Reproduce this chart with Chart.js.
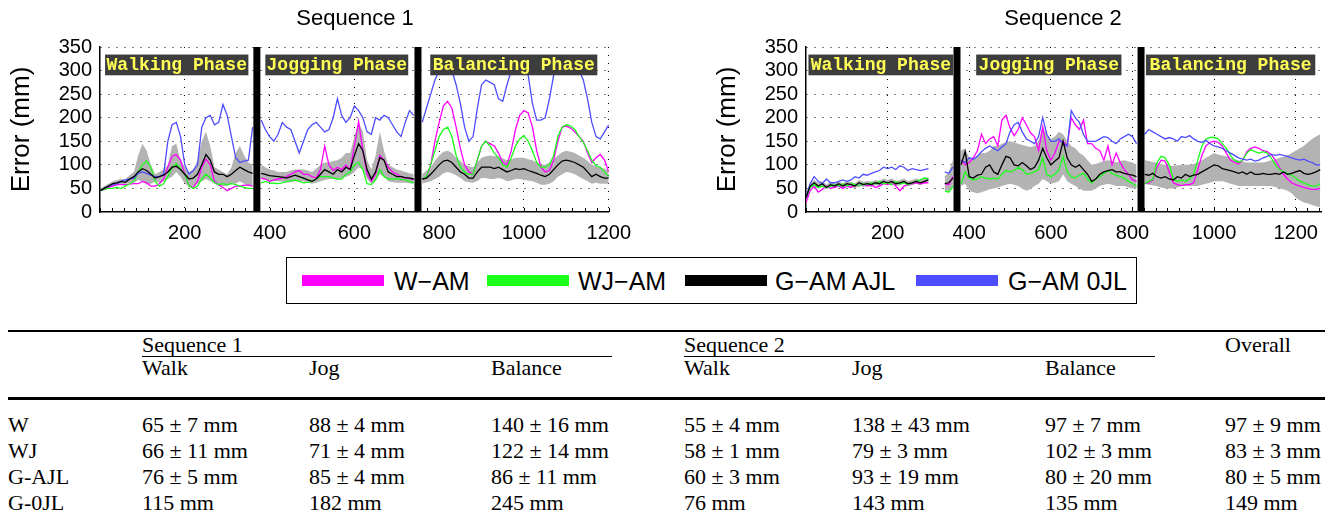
<!DOCTYPE html>
<html><head><meta charset="utf-8">
<script src="https://cdn.jsdelivr.net/npm/chart.js@4.4.1/dist/chart.umd.min.js"></script>
<style>
html,body{margin:0;padding:0;background:#fff;}
body{width:1333px;height:520px;position:relative;overflow:hidden;font-family:'Liberation Sans',Arial,sans-serif;color:#000;}
canvas{position:absolute;top:0;}
.t{position:absolute;transform:translateY(-50%);line-height:1;white-space:nowrap;}
.serif{font-family:'Liberation Serif','Times New Roman',serif;font-size:22px;}
.rule{position:absolute;background:#000;}
</style></head><body>
<canvas id="c1" style="left:0px" width="640" height="250"></canvas>
<canvas id="c2" style="left:706px" width="627" height="250"></canvas>
<script>
// ---------------- DATA ----------------
const seriesNames = ['W\u2212AM', 'WJ\u2212AM', 'G\u2212AM AJL', 'G\u2212AM 0JL'];
const seriesColors = ['#ff00ff', '#1aff1a', '#000000', '#4d4dff'];
const chartTitles = ['Sequence 1', 'Sequence 2'];
const yAxisTitle = 'Error (mm)';
const yTicks = [0, 50, 100, 150, 200, 250, 300, 350];
const xTicks = [200, 400, 600, 800, 1000, 1200];
const phaseNames = ['Walking Phase', 'Jogging Phase', 'Balancing Phase'];

// Sequence 1
const s1X = [0,10,20,30,40,50,60,70,80,90,
 100,110,120,130,140,150,160,170,180,190,
 200,210,220,230,240,250,260,270,280,290,
 300,310,320,330,340,350,360,370,380,390,
 400,410,420,430,440,450,460,470,480,490,
 500,510,520,530,540,550,560,570,580,590,
 600,610,620,630,640,650,660,670,680,690,
 700,710,720,730,740,750,760,770,780,790,
 800,810,820,830,840,850,860,870,880,890,
 900,910,920,930,940,950,960,970,980,990,
 1000,1010,1020,1030,1040,1050,1060,1070,1080,1090,
 1100,1110,1120,1130,1140,1150,1160,1170,1180,1190,
 1200];
const s1W = [45,48,52,55,58,58,58,59,60,60,
 65,62,55,55,60,70,95,118,122,110,
 80,55,52,65,95,112,100,65,58,52,
 45,50,55,55,57,57,55,null,72,70,
 65,68,70,72,75,80,85,88,80,80,
 75,72,90,140,100,88,95,90,100,90,
 140,192,130,80,65,80,120,110,95,85,
 80,75,72,72,68,null,70,72,100,150,
 190,225,235,220,180,135,100,85,80,110,
 140,150,145,140,125,105,100,130,175,205,
 215,210,180,130,95,85,88,110,150,180,
 182,178,170,160,150,125,105,115,122,110,
 85];
const s1WJ = [45,48,50,50,52,50,55,60,65,85,
 100,108,95,65,55,60,75,95,102,92,
 80,55,50,55,70,80,72,62,58,60,
 58,60,58,55,52,50,50,null,62,65,
 62,61,60,62,65,66,68,65,62,63,
 65,70,75,75,75,72,70,70,80,85,
 100,105,90,60,58,68,90,75,70,70,
 70,69,68,65,62,null,70,75,100,130,
 160,175,180,160,120,95,85,80,80,110,
 140,150,140,125,115,100,95,115,140,155,
 162,150,130,105,95,95,100,120,160,180,
 185,182,175,160,148,130,110,98,95,85,
 75];
const s1GAJL = [45,50,55,60,62,65,63,70,75,85,
 92,88,80,72,75,78,85,95,97,90,
 80,70,72,80,100,122,110,85,80,80,
 75,80,88,95,90,85,82,null,82,80,
 77,76,75,74,72,75,78,75,72,68,
 65,70,80,90,85,80,90,85,95,90,
 120,145,130,90,70,85,115,110,85,80,
 75,75,73,72,70,null,70,72,80,90,
 100,108,110,105,95,85,80,72,72,85,
 95,95,95,92,95,90,85,88,92,90,
 92,88,85,82,78,75,80,90,100,108,
 110,108,105,100,95,85,75,80,75,72,
 72];
const s1G0JL = [45,50,55,58,60,65,68,70,72,82,
 85,82,78,75,75,80,150,185,190,160,
 100,80,88,100,180,200,205,185,190,228,
 205,160,115,105,108,110,180,null,195,175,
 160,150,165,190,180,175,150,125,150,175,
 185,190,180,170,175,200,240,205,190,200,
 225,215,200,170,165,200,195,205,200,185,
 170,160,190,215,205,null,190,220,250,280,
 300,315,320,300,270,230,180,150,160,220,
 270,280,275,270,240,235,270,300,318,322,
 315,290,230,195,195,200,240,290,312,322,
 325,322,315,300,280,240,190,160,155,170,
 185];
const s1BandLow = [42,48,52,55,58,58,60,62,62,68,
 65,58,60,65,62,65,70,75,85,75,
 60,55,55,60,65,70,65,60,55,55,
 55,60,60,65,60,55,55,null,70,68,
 65,65,65,64,62,63,65,64,65,62,
 60,62,65,68,70,70,70,72,75,78,
 85,95,90,70,60,65,80,75,65,63,
 62,62,62,61,60,null,60,63,65,70,
 75,82,85,82,78,72,65,63,62,66,
 72,72,70,70,72,70,65,67,70,70,
 68,67,65,62,58,58,60,65,75,80,
 85,83,80,75,70,65,60,62,60,60,
 60];
const s1BandHigh = [48,55,60,65,68,70,70,78,85,120,
 145,130,100,80,85,90,100,140,145,110,
 95,85,90,110,150,170,140,95,90,85,
 80,95,125,140,120,105,100,null,100,95,
 90,88,85,85,85,88,90,90,90,88,
 85,92,100,105,105,108,110,115,125,125,
 160,190,170,110,90,120,170,130,100,95,
 90,88,85,82,80,null,80,88,95,108,
 120,128,130,125,115,108,100,97,95,105,
 115,118,120,118,118,114,110,112,115,115,
 115,112,110,105,100,100,105,112,120,127,
 130,128,125,120,115,108,100,98,95,92,
 88];
const s1XMax = 1200;
const s1Bars = [370, 750];
const s1PhaseFrom = [12, 390, 779];
const s1PhaseTo = [350, 727, 1173];

// Sequence 2
const s2X = [0,10,20,30,40,50,60,70,80,90,
 100,110,120,130,140,150,160,170,180,190,
 200,210,220,230,240,250,260,270,280,290,
 300,310,320,330,340,350,360,370,380,390,
 400,410,420,430,440,450,460,470,480,490,
 500,510,520,530,540,550,560,570,580,590,
 600,610,620,630,640,650,660,670,680,690,
 700,710,720,730,740,750,760,770,780,790,
 800,810,820,830,840,850,860,870,880,890,
 900,910,920,930,940,950,960,970,980,990,
 1000,1010,1020,1030,1040,1050,1060,1070,1080,1090,
 1100,1110,1120,1130,1140,1150,1160,1170,1180,1190,
 1200,1210,1220,1230,1240,1250,1260];
const s2W = [20,45,55,42,48,55,50,52,55,50,
 55,52,58,55,60,55,58,52,55,60,
 58,62,55,45,55,58,60,62,60,62,
 62,null,null,null,60,58,75,null,110,100,
 105,115,130,165,145,155,160,140,195,205,
 178,162,175,200,185,168,160,130,180,130,
 110,125,150,150,140,200,185,175,195,145,
 145,135,130,110,140,100,125,105,90,80,
 68,65,null,60,62,68,95,110,108,85,
 62,58,56,58,58,62,90,120,140,148,
 150,148,140,125,110,105,102,110,128,135,
 138,135,130,128,122,110,95,80,70,62,
 58,55,52,50,48,48,50];
const s2WJ = [30,52,58,52,55,52,55,58,55,60,
 55,60,58,55,60,58,62,60,65,60,
 62,58,65,60,62,58,62,65,68,72,
 70,null,null,null,45,42,55,null,60,85,
 72,68,70,75,72,70,72,70,80,88,
 85,88,95,90,80,82,85,90,115,80,
 75,80,90,118,85,75,72,78,82,70,
 62,70,75,82,88,82,78,75,72,65,
 60,55,null,60,65,70,105,118,115,100,
 70,65,68,65,70,80,110,140,155,158,
 158,155,145,135,120,110,105,110,125,132,
 128,125,128,125,115,100,90,85,82,78,
 72,65,62,58,55,55,60];
const s2GAJL = [30,55,62,55,60,52,58,55,60,55,
 60,58,55,62,58,60,58,62,60,65,
 62,65,60,62,65,60,62,65,62,65,
 68,null,null,null,60,62,72,null,100,128,
 75,72,78,80,95,100,85,80,100,118,
 115,100,98,105,98,90,95,110,135,115,
 100,108,115,150,115,100,95,100,90,80,
 65,70,80,85,88,90,85,85,82,80,
 78,75,null,80,78,82,75,72,75,70,
 68,75,72,80,75,78,80,85,90,95,
 100,98,92,90,88,85,82,85,80,85,
 80,80,82,80,80,82,80,85,80,82,
 85,88,82,80,82,85,90];
const s2G0JL = [30,60,75,65,60,70,62,62,65,68,
 65,68,75,72,80,78,82,85,88,95,
 92,95,90,98,95,88,92,90,88,90,
 92,null,null,null,85,82,95,null,110,105,
 115,112,118,128,135,140,135,130,138,145,
 170,185,190,170,155,150,145,160,200,165,
 150,150,155,145,140,215,200,190,165,150,
 150,150,155,160,158,150,145,155,160,165,
 160,145,null,165,175,170,165,160,155,158,
 155,150,160,158,162,155,150,148,152,145,
 140,138,135,130,125,120,115,112,110,112,
 108,110,115,118,122,120,122,120,118,115,
 112,110,112,108,105,100,100];
const s2BandLow = [25,50,55,50,55,48,53,50,55,50,
 55,53,50,56,53,55,53,57,55,60,
 57,60,55,57,60,55,57,60,57,60,
 62,null,null,null,45,45,50,null,55,60,
 45,42,40,42,45,48,50,52,55,58,
 60,58,55,50,45,48,55,60,70,65,
 60,62,65,80,65,60,55,50,45,45,
 45,50,55,58,60,58,55,55,55,52,
 50,50,null,60,58,56,55,52,50,50,
 50,52,55,55,55,55,55,58,60,62,
 65,65,65,63,60,58,55,55,55,55,
 55,55,55,55,55,53,50,48,45,40,
 30,25,20,18,15,12,10];
const s2BandHigh = [35,60,68,62,66,58,64,60,66,60,
 66,64,61,68,64,66,64,68,66,71,
 68,71,66,68,71,66,68,71,68,71,
 74,null,null,null,75,85,110,null,130,135,
 115,112,120,125,125,130,140,140,145,148,
 150,148,145,142,140,138,140,150,180,165,
 155,160,170,165,150,140,135,125,120,110,
 100,102,105,108,110,108,105,108,110,107,
 105,100,null,110,108,106,105,102,100,98,
 98,99,100,100,100,102,105,110,115,120,
 125,122,120,118,115,112,110,107,105,105,
 105,105,105,107,110,112,115,117,120,125,
 130,135,140,148,155,160,165];
const s2XMax = 1262;
const s2Bars = [370, 821];
const s2PhaseFrom = [6, 417, 833];
const s2PhaseTo = [361, 773, 1248];

// Table
const tableGroups = ['Sequence 1', 'Sequence 2', 'Overall'];
const tablePhases = ['Walk', 'Jog', 'Balance', 'Walk', 'Jog', 'Balance'];
const tableRowLabels = ['W', 'WJ', 'G-AJL', 'G-0JL'];
const tableMeans = [
  [65, 88, 140, 55, 138, 97, 97],
  [66, 71, 122, 58, 79, 102, 83],
  [76, 85, 86, 60, 93, 80, 80],
  [115, 182, 245, 76, 143, 135, 149]];
const tableStds = [
  [7, 4, 16, 4, 43, 7, 9],
  [11, 4, 14, 1, 3, 3, 3],
  [5, 4, 11, 3, 19, 20, 5],
  [null, null, null, null, null, null, null]];

// ---------------- RENDER ----------------
const SANS = "'Liberation Sans', Arial, sans-serif";
const phaseBoxTop = 334, phaseBoxBottom = 290;
const minorStep = 200 / 7;
const pts = (xs, ys) => xs.map((x, i) => ({x: x, y: ys[i]}));

const overlayPlugin = {
  id: 'overlay',
  afterDatasetsDraw(chart, args, opts) {
    const {ctx} = chart; const x = chart.scales.x, y = chart.scales.y;
    ctx.save();
    opts.from.forEach((f, i) => {
      const x0 = x.getPixelForValue(f), x1 = x.getPixelForValue(opts.to[i]);
      const y0 = y.getPixelForValue(phaseBoxTop), y1 = y.getPixelForValue(phaseBoxBottom);
      ctx.fillStyle = '#3d3d3d';
      ctx.fillRect(x0, y0, x1 - x0, y1 - y0);
      ctx.fillStyle = '#ffff55';
      ctx.font = "bold 18px 'Liberation Mono', 'Courier New', monospace";
      ctx.textAlign = 'center'; ctx.textBaseline = 'middle';
      ctx.fillText(phaseNames[i], (x0 + x1) / 2, (y0 + y1) / 2 + 1);
    });
    ctx.restore();
  },
  afterDraw(chart) {
    const {ctx} = chart; const x = chart.scales.x;
    const b = chart.chartArea.bottom;
    ctx.save(); ctx.strokeStyle = '#000'; ctx.lineWidth = 1;
    for (let v = x.min; v <= x.max + 1e-6; v += minorStep) {
      const px = Math.round(x.getPixelForValue(v)) + 0.5;
      ctx.beginPath(); ctx.moveTo(px, b); ctx.lineTo(px, b - 4); ctx.stroke();
    }
    ctx.restore();
  }
};

function makeChart(id, xs, lines, lo, hi, bars, xMax, from, to, padRight) {
  const ds = [];
  ds.push({data: pts(xs, lo), borderWidth: 0, pointRadius: 0, fill: false, order: 20, spanGaps: false});
  ds.push({data: pts(xs, hi), borderWidth: 0, pointRadius: 0, fill: '-1', backgroundColor: '#b3b3b3', order: 19, spanGaps: false});
  const lineOrder = [4, 3, 1, 2];
  lines.forEach((ys, k) => ds.push({data: pts(xs, ys), borderColor: seriesColors[k], borderWidth: 1.3,
    pointRadius: 0, fill: false, tension: 0, order: lineOrder[k], spanGaps: false}));
  bars.forEach(bx => ds.push({data: [{x: bx, y: yTicks[0]}, {x: bx, y: yTicks[yTicks.length - 1]}],
    borderColor: '#000', borderWidth: 7, pointRadius: 0, fill: false, order: 0, borderCapStyle: 'butt'}));
  return new Chart(document.getElementById(id), {
    type: 'line',
    data: {datasets: ds},
    plugins: [overlayPlugin],
    options: {
      responsive: false, animation: false, devicePixelRatio: 1,
      layout: {padding: {left: 0, right: padRight, top: 47, bottom: 0}},
      plugins: {legend: {display: false}, tooltip: {enabled: false}, title: {display: false},
        overlay: {from: from, to: to}},
      scales: {
        x: {type: 'linear', min: 0, max: xMax,
          afterBuildTicks: s => { s.ticks = xTicks.map(v => ({value: v})); },
          afterFit: s => { s.height = 38; },
          grid: {color: '#000', lineWidth: 1, drawTicks: false},
          border: {display: true, color: '#000', width: 1.5, dash: [1, 7]},
          ticks: {font: {family: SANS, size: 20}, color: '#000', padding: 9, maxRotation: 0, autoSkip: false,
            callback: v => String(v)}},
        y: {type: 'linear', min: yTicks[0], max: yTicks[yTicks.length - 1],
          afterBuildTicks: s => { s.ticks = yTicks.map(v => ({value: v})); },
          afterFit: s => { s.width = 100; },
          grid: {color: c => (c.tick && c.tick.value === 0) ? 'rgba(0,0,0,0)' : '#000', lineWidth: 1, drawTicks: false},
          border: {display: true, color: '#000', width: 1.5, dash: [1, 7]},
          title: {display: true, text: yAxisTitle, font: {family: SANS, size: 26}, color: '#000', padding: {top: 6, bottom: 0}},
          ticks: {font: {family: SANS, size: 20}, color: '#000', padding: 8, autoSkip: false,
            callback: v => String(v)}}
      }
    }
  });
}

makeChart('c1', s1X, [s1W, s1WJ, s1GAJL, s1G0JL], s1BandLow, s1BandHigh, s1Bars, s1XMax, s1PhaseFrom, s1PhaseTo, 26);
makeChart('c2', s2X, [s2W, s2WJ, s2GAJL, s2G0JL], s2BandLow, s2BandHigh, s2Bars, s2XMax, s2PhaseFrom, s2PhaseTo, 12);

// Titles
const body = document.body;
function addText(txt, left, cy, cls, style) {
  const d = document.createElement('div');
  d.className = 't ' + (cls || '');
  d.style.left = left + 'px'; d.style.top = cy + 'px';
  if (style) Object.assign(d.style, style);
  d.textContent = txt; body.appendChild(d); return d;
}
function addRule(left, top, width, height) {
  const d = document.createElement('div');
  d.className = 'rule';
  Object.assign(d.style, {left: left + 'px', top: top + 'px', width: width + 'px', height: height + 'px'});
  body.appendChild(d);
}
const titleCenters = [355, 1063];
chartTitles.forEach((t, i) => addText(t, titleCenters[i], 18, '', {fontSize: '22px', transform: 'translate(-50%,-50%)'}));

// Legend
const lg = document.createElement('div');
Object.assign(lg.style, {position: 'absolute', left: '286px', top: '257px', width: '851px', height: '47px',
  border: '1.5px solid #000', boxSizing: 'border-box'});
body.appendChild(lg);
const swLeft = [302, 487, 685, 916], txLeft = [394, 578, 775, 1008];
seriesNames.forEach((n, i) => {
  const s = document.createElement('div');
  Object.assign(s.style, {position: 'absolute', left: swLeft[i] + 'px', top: '275px', width: '82px', height: '11px', background: seriesColors[i]});
  body.appendChild(s);
  addText(n, txLeft[i], 281, '', {fontSize: '25px'});
});

// Table
const colX = [142, 309, 491, 684, 852, 1045, 1225];
const groupX = [142, 684, 1225];
const rowY = [425, 451, 477, 503];
addRule(8, 330, 1317, 2);
tableGroups.forEach((g, i) => addText(g, groupX[i], 345, 'serif'));
addRule(142, 356, 470, 1);
addRule(684, 356, 471, 1);
tablePhases.forEach((p, i) => addText(p, colX[i], 368, 'serif'));
addRule(8, 397, 1317, 3);
tableRowLabels.forEach((r, i) => {
  addText(r, 8, rowY[i], 'serif');
  tableMeans[i].forEach((m, j) => {
    const s = tableStds[i][j];
    const txt = m + (s === null ? '' : ' \u00b1 ' + s) + ' mm';
    addText(txt, colX[j], rowY[i], 'serif');
  });
});
</script>
</body></html>
